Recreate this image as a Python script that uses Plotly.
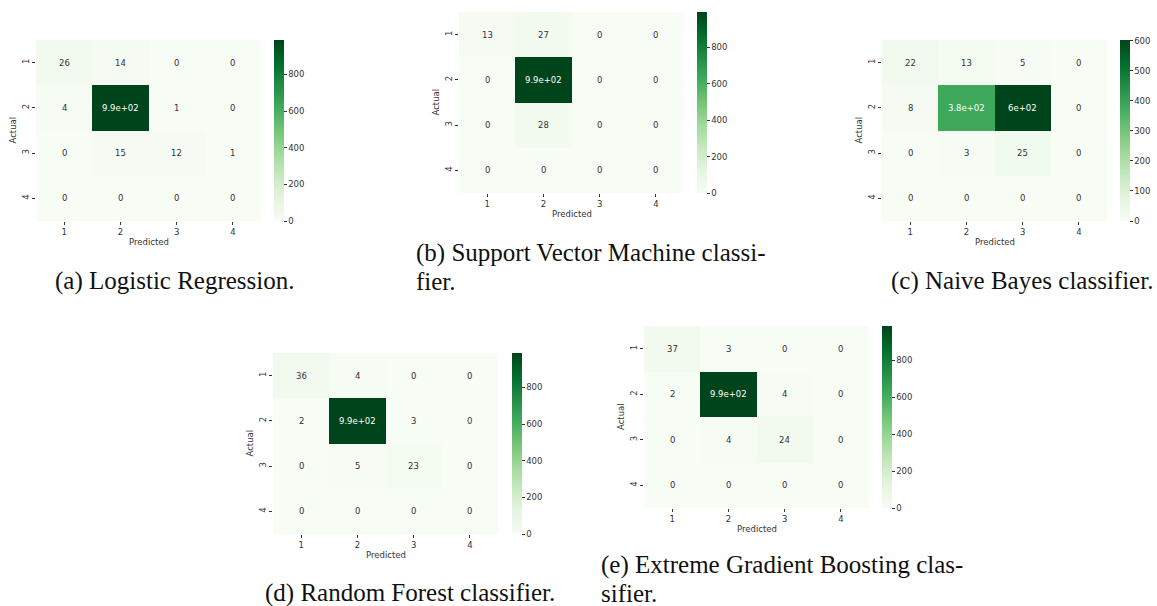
import plotly.graph_objects as go

W, H = 1157, 606

# class labels shared by every confusion matrix
classes = [1, 2, 3, 4]

# confusion matrices (rows = actual, columns = predicted)
cm_logreg = [[26, 14, 0, 0], [4, 988, 1, 0], [0, 15, 12, 1], [0, 0, 0, 0]]
cm_svm = [[13, 27, 0, 0], [0, 993, 0, 0], [0, 28, 0, 0], [0, 0, 0, 0]]
cm_nb = [[22, 13, 5, 0], [8, 383, 602, 0], [0, 3, 25, 0], [0, 0, 0, 0]]
cm_rf = [[36, 4, 0, 0], [2, 988, 3, 0], [0, 5, 23, 0], [0, 0, 0, 0]]
cm_xgb = [[37, 3, 0, 0], [2, 987, 4, 0], [0, 4, 24, 0], [0, 0, 0, 0]]

ticks_1000 = [0, 200, 400, 600, 800]
ticks_600 = [0, 100, 200, 300, 400, 500, 600]

caption_a = ["(a) Logistic Regression."]
caption_b = ["(b) Support Vector Machine classi-", "fier."]
caption_c = ["(c) Naive Bayes classifier."]
caption_d = ["(d) Random Forest classifier."]
caption_e = ["(e) Extreme Gradient Boosting clas-", "sifier."]

# matplotlib "Greens" colormap stops
greens = ["#f7fcf5", "#e5f5e0", "#c7e9c0", "#a1d99b", "#74c476",
          "#41ab5d", "#238b45", "#006d2c", "#00441b"]
greens_scale = [[i / 8, c] for i, c in enumerate(greens)]

# panel geometry in pixels: plot box (x0, x1, y0, y1), colorbar (x0, width),
# caption (left, [line centres])
panels = [
    dict(z=cm_logreg, cb_ticks=ticks_1000, box=(36, 261, 40, 221), cb=(274, 10),
         cap=caption_a, cap_x=53, cap_y=[281]),
    dict(z=cm_svm, cb_ticks=ticks_1000, box=(459, 684, 12, 193), cb=(697, 10),
         cap=caption_b, cap_x=414, cap_y=[253, 281]),
    dict(z=cm_nb, cb_ticks=ticks_600, box=(882, 1107, 40, 221), cb=(1120, 10),
         cap=caption_c, cap_x=889, cap_y=[281]),
    dict(z=cm_rf, cb_ticks=ticks_1000, box=(273, 498, 353, 534), cb=(512, 10),
         cap=caption_d, cap_x=263, cap_y=[593]),
    dict(z=cm_xgb, cb_ticks=ticks_1000, box=(644, 869, 326, 508), cb=(882, 10),
         cap=caption_e, cap_x=599, cap_y=[565, 593]),
]

TXT = "#333333"
SANS = "DejaVu Sans"
SERIF = "'Liberation Serif', 'DejaVu Serif', serif"

fig = go.Figure()
layout = dict(
    width=W, height=H, margin=dict(l=0, r=0, t=0, b=0),
    paper_bgcolor="white", plot_bgcolor="white", showlegend=False,
    font=dict(family=SANS, color=TXT, size=8.5),
)
annotations = []


def px_x(v):
    return v / W


def px_y(v):
    return 1 - v / H


for k, p in enumerate(panels, start=1):
    sfx = "" if k == 1 else str(k)
    x0, x1, y0, y1 = p["box"]
    z = p["z"]
    zmax = max(max(r) for r in z)

    fig.add_trace(go.Heatmap(
        z=z, x=classes, y=classes, coloraxis="coloraxis" + sfx,
        xaxis="x" + sfx, yaxis="y" + sfx, hoverinfo="skip",
    ))

    cbx, cbw = p["cb"]
    layout["coloraxis" + sfx] = dict(
        colorscale=greens_scale, cmin=0, cmax=zmax,
        colorbar=dict(
            x=px_x(cbx), xanchor="left", xpad=0,
            y=px_y(y1), yanchor="bottom", ypad=0,
            len=(y1 - y0) / H, lenmode="fraction",
            thickness=cbw, thicknessmode="pixels", outlinewidth=0,
            ticks="outside", ticklen=3, tickcolor=TXT, tickwidth=1,
            tickvals=p["cb_ticks"], tickfont=dict(size=8.5, color=TXT, family=SANS),
        ),
    )

    layout["xaxis" + sfx] = dict(
        domain=[px_x(x0), px_x(x1)], anchor="y" + sfx, range=[0.5, 4.5],
        tickvals=classes, ticks="outside", ticklen=3, tickcolor=TXT,
        showgrid=False, zeroline=False, showline=False, fixedrange=True,
        tickfont=dict(size=8.5, color=TXT, family=SANS),
    )
    layout["yaxis" + sfx] = dict(
        domain=[px_y(y1), px_y(y0)], anchor="x" + sfx, range=[4.5, 0.5],
        tickvals=classes, ticks="outside", ticklen=3, tickcolor=TXT,
        tickangle=-90, showgrid=False, zeroline=False, showline=False,
        fixedrange=True, tickfont=dict(size=8.5, color=TXT, family=SANS),
    )

    # cell value labels in the seaborn '.2g' style
    for i, row in enumerate(z):
        for j, v in enumerate(row):
            annotations.append(dict(
                x=classes[j], y=classes[i], xref="x" + sfx, yref="y" + sfx,
                text=format(v, ".2g"), showarrow=False,
                font=dict(size=8.5, family=SANS,
                          color="white" if v / zmax > 0.5 else TXT),
            ))

    # axis titles
    annotations.append(dict(
        x=px_x((x0 + x1) / 2), y=px_y(y1 + 21), xref="paper", yref="paper",
        text="Predicted", showarrow=False, xanchor="center", yanchor="middle",
        font=dict(size=8.5, family=SANS, color=TXT),
    ))
    annotations.append(dict(
        x=px_x(x0 - 23), y=px_y((y0 + y1) / 2), xref="paper", yref="paper",
        text="Actual", showarrow=False, textangle=-90, xanchor="center",
        yanchor="middle", font=dict(size=8.5, family=SANS, color=TXT),
    ))

    # sub-figure captions
    for line, cy in zip(p["cap"], p["cap_y"]):
        annotations.append(dict(
            x=px_x(p["cap_x"]), y=px_y(cy), xref="paper", yref="paper",
            text=line, showarrow=False, xanchor="left", yanchor="middle",
            font=dict(size=25, family=SERIF, color="#111111"),
        ))

layout["annotations"] = annotations
fig.update_layout(**layout)
fig.write_html("out.html")
